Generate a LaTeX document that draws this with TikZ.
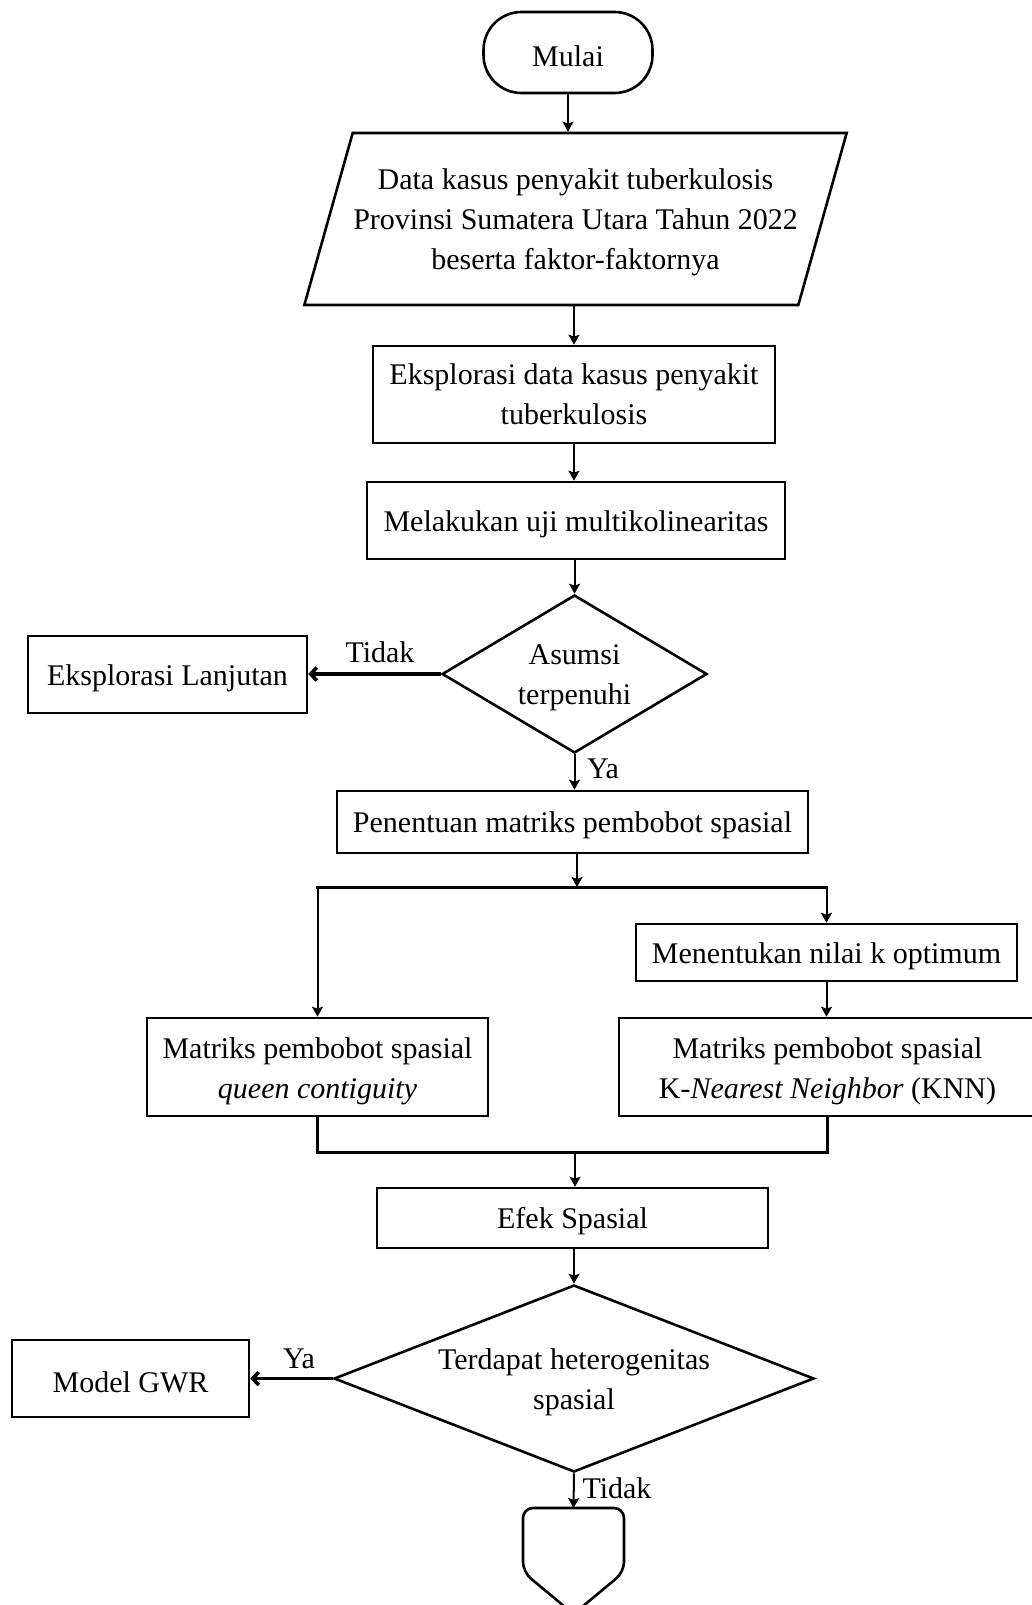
\documentclass[tikz,border=0pt]{standalone}
\usepackage{fontspec}
\setmainfont{Liberation Serif}
\usetikzlibrary{shapes.geometric,arrows.meta}
\newcommand{\bigtxt}{\fontsize{30}{40}\selectfont}
\newcommand{\lowtext}[2][3pt]{\raisebox{-#1}[\height][\depth]{\begin{tabular}{@{}c@{}}#2\end{tabular}}}
\tikzset{
  box/.style={draw, line width=2.6pt, align=center, inner sep=0pt, font=\bigtxt,
    execute at begin node={\rule{0pt}{28pt}}},
  arr/.style={line width=2pt, -{Stealth[length=10pt,width=11pt,inset=2pt]}},
  thickarr/.style={line width=3.6pt, -{Straight Barb[length=6pt,width=13pt]}},
  bus/.style={line width=3pt, line cap=rect},
  lbl/.style={font=\bigtxt, inner sep=0pt}
}
\begin{document}
\begin{tikzpicture}[x=1pt,y=-1pt]
\useasboundingbox (0,0) rectangle (1032,1605);
% nodes
\node[box, rounded corners=38pt, minimum width=169pt, minimum height=81pt] (start) at (568,52.5) {Mulai};
\node[box, trapezium, trapezium stretches=true, trapezium left angle=68.1, trapezium right angle=111.9,
      minimum width=543pt, minimum height=172pt] (data) at (575.5,219)
  {\lowtext{Data kasus penyakit tuberkulosis\\Provinsi Sumatera Utara Tahun 2022\\beserta faktor-faktornya}};
\node[box, minimum width=402pt, minimum height=97pt] (eks) at (574,394.5) {Eksplorasi data kasus penyakit\\tuberkulosis};
\node[box, minimum width=418pt, minimum height=77pt] (multi) at (576,520.5) {Melakukan uji multikolinearitas};
\node[box, diamond, aspect=1.68, minimum width=265pt, minimum height=158pt] (dia1) at (574.5,674) {\lowtext[2pt]{Asumsi\\terpenuhi}};
\node[box, minimum width=279pt, minimum height=77pt] (lanj) at (167.5,674.5) {Eksplorasi Lanjutan};
\node[box, minimum width=471pt, minimum height=62pt] (pen) at (572.5,822) {Penentuan matriks pembobot spasial};
\node[box, minimum width=381pt, minimum height=57pt] (menen) at (826.5,952.5) {Menentukan nilai k optimum};
\node[box, minimum width=341pt, minimum height=98pt] (queen) at (317.5,1067) {\lowtext{Matriks pembobot spasial\\\textit{queen contiguity}}};
\node[box, minimum width=417pt, minimum height=98pt] (knn) at (827.5,1067) {\lowtext{Matriks pembobot spasial\\K-\textit{Nearest Neighbor} (KNN)}};
\node[box, minimum width=391pt, minimum height=60pt] (efek) at (572.5,1218) {Efek Spasial};
\node[box, diamond, aspect=2.57, minimum width=480pt, minimum height=187pt] (dia2) at (574,1378.5) {\lowtext{Terdapat heterogenitas\\spasial}};
\node[box, minimum width=237pt, minimum height=77pt] (gwr) at (130.5,1378.5) {Model GWR};
% off-page connector
\coordinate (endc) at (573.5,1508);
\draw[line width=2.6pt, rounded corners=10pt] (endc) -- (523,1508) -- (523,1572) -- (573.5,1614) -- (624,1572) -- (624,1508) -- cycle;
% helper coordinates
\coordinate (split) at (577,887);
\coordinate (merge) at (575,1152);
% connectors
\draw[arr] (start.south) -- (start.south |- data.north);
\draw[arr] (eks.north |- data.south) -- (eks.north);
\draw[arr] (eks.south) -- (eks.south |- multi.north);
\draw[arr] (dia1.north |- multi.south) -- (dia1.north);
\draw[thickarr] (dia1.west) -- (dia1.west -| lanj.east);
\draw[arr] (dia1.south) -- (dia1.south |- pen.north);
\draw[arr] (split |- pen.south) -- (split);
\draw[bus] (queen.north |- split) -- (menen.north |- split);
\draw[arr] (queen.north |- split) -- (queen.north);
\draw[arr] (menen.north |- split) -- (menen.north);
\draw[arr] (menen.south) -- (menen.south |- knn.north);
\draw[bus, line cap=butt] (queen.south) -- (queen.south |- merge) -- (knn.south |- merge) -- (knn.south);
\draw[arr] (merge) -- (merge |- efek.north);
\draw[arr] (dia2.north |- efek.south) -- (dia2.north);
\draw[thickarr] (dia2.west) -- (dia2.west -| gwr.east);
\draw[arr] (dia2.south) -- (endc);
% labels
\node[lbl] (l1) at (380,652) {Tidak};
\node[lbl] (l2) at (603,769) {Ya};
\node[lbl] (l3) at (299,1359) {Ya};
\node[lbl] (l4) at (617,1488) {Tidak};
\end{tikzpicture}
\end{document}
